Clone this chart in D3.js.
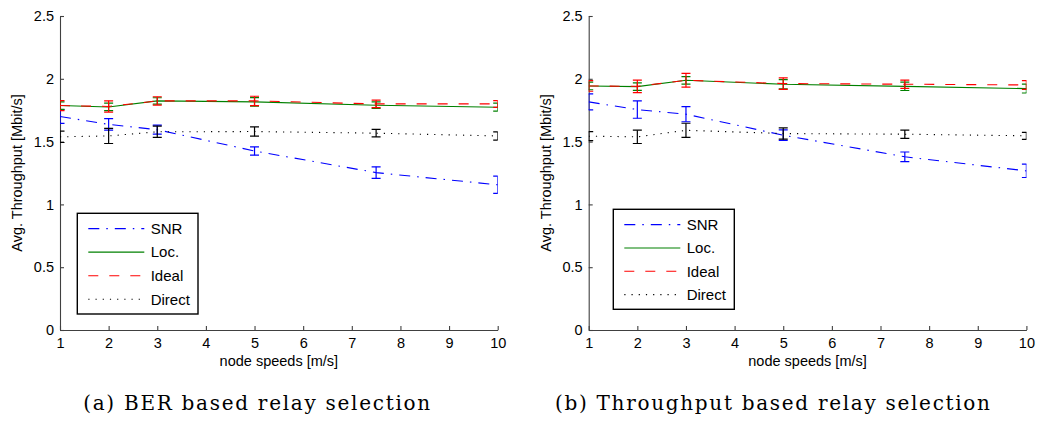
<!DOCTYPE html>
<html>
<head>
<meta charset="utf-8">
<script src="https://cdn.jsdelivr.net/npm/d3@7"></script>
<style>
body { margin: 0; background: #fff; }
text { font-family: "Liberation Sans", Arial, sans-serif; fill: #000; }
.caption { font-family: "DejaVu Serif", "Liberation Serif", serif; font-size: 20px; }
</style>
</head>
<body>
<svg id="fig" width="1040" height="421"></svg>
<script>
// node speeds (x values) and axis ticks
var speeds = [1, 2, 3, 5, 7.5, 10];
var xTickVals = [1, 2, 3, 4, 5, 6, 7, 8, 9, 10];
var yTickVals = [0, 0.5, 1, 1.5, 2, 2.5];
var seriesNames = ["SNR", "Loc.", "Ideal", "Direct"];

// (a) BER based relay selection
var berSnr = [1.70, 1.637, 1.595, 1.425, 1.253, 1.156];
var berSnrErr = [0.055, 0.046, 0.036, 0.033, 0.046, 0.069];
var berLoc = [1.787, 1.776, 1.824, 1.816, 1.79, 1.774];
var berLocErr = [0.03, 0.03, 0.025, 0.034, 0.026, 0.032];
var berIdeal = [1.787, 1.78, 1.824, 1.824, 1.80, 1.80];
var berIdealErr = [0.04, 0.045, 0.033, 0.037, 0.03, 0.027];
var berDirect = [1.538, 1.545, 1.578, 1.58, 1.567, 1.545];
var berDirectErr = [0.045, 0.06, 0.045, 0.037, 0.03, 0.033];

// (b) Throughput based relay selection
var thrSnr = [1.816, 1.755, 1.718, 1.551, 1.379, 1.267];
var thrSnrErr = [0.064, 0.069, 0.06, 0.042, 0.038, 0.053];
var thrLoc = [1.943, 1.938, 1.988, 1.957, 1.94, 1.922];
var thrLocErr = [0.03, 0.03, 0.03, 0.037, 0.033, 0.035];
var thrIdeal = [1.943, 1.94, 1.988, 1.962, 1.957, 1.951];
var thrIdealErr = [0.042, 0.05, 0.055, 0.046, 0.033, 0.035];
var thrDirect = [1.543, 1.538, 1.59, 1.564, 1.559, 1.546];
var thrDirectErr = [0.036, 0.053, 0.056, 0.045, 0.033, 0.028];

var colours = ["#0000ff", "#008000", "#ff0000", "#000000"];
var dashes = ["11,7,1.5,7", null, "10,11", "1.2,6"];

var panels = [
  { id: "a", left: 60, caption: "(a) BER based relay selection", capX: 256.7, capLen: 347,
    ylabX: 22, legend: { x: 77.3, y: 213.3, w: 120.7, h: 100.7 },
    values: [berSnr, berLoc, berIdeal, berDirect],
    errors: [berSnrErr, berLocErr, berIdealErr, berDirectErr] },
  { id: "b", left: 588.7, caption: "(b) Throughput based relay selection", capX: 772.5, capLen: 435,
    ylabX: 550.5, legend: { x: 613.3, y: 209.3, w: 121, h: 100 },
    values: [thrSnr, thrLoc, thrIdeal, thrDirect],
    errors: [thrSnrErr, thrLocErr, thrIdealErr, thrDirectErr] }
];

var svg = d3.select("#fig");
var plotW = 437.7, plotTop = 16, plotBottom = 330;

panels.forEach(function(p) {
  var x = d3.scaleLinear().domain([1, 10]).range([p.left, p.left + plotW]);
  var y = d3.scaleLinear().domain([0, 2.5]).range([plotBottom, plotTop]);
  var g = svg.append("g");

  svg.append("clipPath").attr("id", "clip" + p.id)
    .append("rect")
      .attr("x", x(1)).attr("y", y(2.5))
      .attr("width", x(10) - x(1)).attr("height", y(0) - y(2.5));

  // axes, ticks pointing inward
  var xAxis = g.append("g")
      .attr("transform", "translate(0," + plotBottom + ")")
      .call(d3.axisBottom(x).tickValues(xTickVals).tickSizeInner(-4).tickSizeOuter(0).tickPadding(8));
  var yAxis = g.append("g")
      .attr("transform", "translate(" + p.left + ",0)")
      .call(d3.axisLeft(y).tickValues(yTickVals).tickSizeInner(-4).tickSizeOuter(0).tickPadding(6)
        .tickFormat(function(d) { return d; }));
  [xAxis, yAxis].forEach(function(a) {
    a.selectAll("path, line").attr("stroke", "#404040").attr("stroke-width", 1.1);
    a.selectAll("text").style("font-size", "14.5px").attr("fill", "#000")
      .style("font-family", "'Liberation Sans', Arial, sans-serif");
  });

  g.append("text")
      .attr("x", (x(1) + x(10)) / 2).attr("y", 366)
      .attr("text-anchor", "middle").style("font-size", "14.5px")
      .text("node speeds [m/s]");
  g.append("text")
      .attr("transform", "translate(" + p.ylabX + "," + ((plotTop + plotBottom) / 2) + ") rotate(-90)")
      .attr("text-anchor", "middle").style("font-size", "14.5px")
      .text("Avg. Throughput [Mbit/s]");

  // series lines + error bars
  var line = d3.line()
      .x(function(d) { return x(d.s); })
      .y(function(d) { return y(d.v); });

  p.values.forEach(function(vals, i) {
    var pts = speeds.map(function(s, k) { return { s: s, v: vals[k], e: p.errors[i][k] }; });
    var sg = g.append("g").attr("clip-path", "url(#clip" + p.id + ")");
    sg.append("path")
        .datum(pts)
        .attr("d", line)
        .attr("fill", "none")
        .attr("stroke", colours[i])
        .attr("stroke-width", 1.1)
        .attr("stroke-dasharray", dashes[i]);
    var eb = sg.selectAll(".eb" + i).data(pts).enter().append("g")
        .attr("stroke", colours[i]).attr("stroke-width", 1.2);
    eb.append("line")
        .attr("x1", function(d) { return x(d.s); }).attr("x2", function(d) { return x(d.s); })
        .attr("y1", function(d) { return y(d.v + d.e); }).attr("y2", function(d) { return y(d.v - d.e); });
    [1, -1].forEach(function(sgn) {
      eb.append("line")
          .attr("x1", function(d) { return x(d.s) - 4.5; }).attr("x2", function(d) { return x(d.s) + 4.5; })
          .attr("y1", function(d) { return y(d.v + sgn * d.e); }).attr("y2", function(d) { return y(d.v + sgn * d.e); });
    });
  });

  // legend
  var lg = g.append("g").attr("transform", "translate(" + p.legend.x + "," + p.legend.y + ")");
  lg.append("rect")
      .attr("width", p.legend.w).attr("height", p.legend.h)
      .attr("fill", "#fff").attr("stroke", "#000").attr("stroke-width", 1.4);
  var rowStep = (p.legend.h - 30) / 3;
  seriesNames.forEach(function(name, i) {
    var ry = 15.3 + i * rowStep;
    lg.append("line")
        .attr("x1", 11).attr("x2", 67).attr("y1", ry).attr("y2", ry)
        .attr("stroke", colours[i]).attr("stroke-width", 1.1)
        .attr("stroke-dasharray", dashes[i]);
    lg.append("text")
        .attr("x", 73.4).attr("y", ry + 5.3)
        .style("font-size", "15px")
        .text(name);
  });

  svg.append("text")
      .attr("class", "caption")
      .attr("x", p.capX).attr("y", 410)
      .attr("text-anchor", "middle")
      .attr("textLength", p.capLen).attr("lengthAdjust", "spacing")
      .text(p.caption);
});
</script>
</body>
</html>
